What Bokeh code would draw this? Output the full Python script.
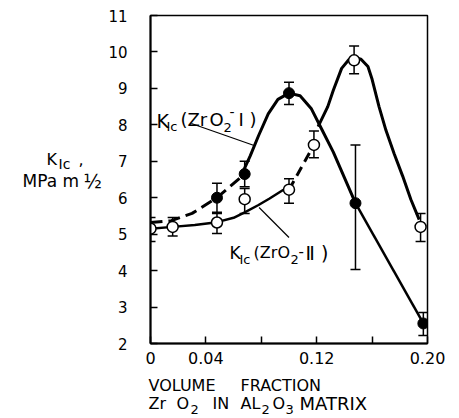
from bokeh.plotting import figure
from bokeh.models import Label, Whisker, ColumnDataSource, FixedTicker, TeeHead, Range1d
from bokeh.layouts import row, column
from bokeh.embed import file_html
from bokeh.resources import INLINE

# ---- measured data (volume fraction ZrO2, K_Ic in MPa m^1/2) ----
x_I = [0.048, 0.068, 0.100, 0.148, 0.197]
y_I = [6.00, 6.65, 8.87, 5.85, 2.55]
lo_I = [5.60, 6.30, 8.56, 4.03, 2.22]
hi_I = [6.40, 7.00, 9.17, 7.45, 2.85]

x_II = [0.0, 0.016, 0.048, 0.068, 0.100, 0.118, 0.147, 0.195]
y_II = [5.15, 5.20, 5.32, 5.96, 6.22, 7.45, 9.77, 5.20]
lo_II = [4.80, 4.95, 5.02, 5.57, 5.85, 7.10, 9.40, 4.80]
hi_II = [5.46, 5.46, 5.57, 6.25, 6.52, 7.83, 10.16, 5.57]

# ---- hand-drawn trend curves ----
cI_dash_x = [0.0, 0.015, 0.030, 0.048, 0.068]
cI_dash_y = [5.32, 5.37, 5.57, 6.00, 6.65]
cI_solid_x = [0.066, 0.072, 0.078, 0.085, 0.092, 0.100, 0.108, 0.116, 0.124, 0.132, 0.140, 0.148]
cI_solid_y = [6.65, 7.15, 7.70, 8.30, 8.70, 8.87, 8.80, 8.45, 7.85, 7.25, 6.55, 5.85]
cI_tail_x = [0.148, 0.197]
cI_tail_y = [5.85, 2.55]

cII_left_x = [0.0, 0.016, 0.032, 0.048, 0.060, 0.068, 0.078, 0.086, 0.096]
cII_left_y = [5.15, 5.20, 5.25, 5.33, 5.45, 5.60, 5.80, 5.98, 6.22]
cII_dash_x = [0.100, 0.118]
cII_dash_y = [6.22, 7.45]
cII_right_x = [0.121, 0.128, 0.132, 0.138, 0.143, 0.147, 0.152, 0.157, 0.160, 0.165, 0.170, 0.176, 0.182, 0.188, 0.194]
cII_right_y = [7.95, 8.50, 8.95, 9.55, 9.78, 9.85, 9.80, 9.60, 9.25, 8.50, 7.85, 7.20, 6.60, 5.95, 5.40]

x_ticks = [0.0, 0.04, 0.08, 0.12, 0.16, 0.20]
x_tick_labels = ["0", "0.04", "", "0.12", "", "0.20"]
y_ticks = [2, 3, 4, 5, 6, 7, 8, 9, 10, 11]

FONT = "DejaVu Sans"
YW = 105      # width of the y-label strip
TOPH = 372    # height of the upper row
W, H = 459, 418

# ---------------- main plot ----------------
p = figure(width=W - YW, height=TOPH, output_backend="svg", toolbar_location=None,
           x_range=Range1d(0, 0.2), y_range=Range1d(2, 11),
           min_border_left=149 - YW, min_border_right=32, min_border_top=15,
           min_border_bottom=TOPH - 343)
p.grid.visible = False
p.outline_line_color = "black"
p.outline_line_width = 1.5
p.background_fill_color = "white"

for ax in (p.xaxis[0], p.yaxis[0]):
    ax.axis_line_width = 2
    ax.major_tick_in = 7
    ax.major_tick_out = 0
    ax.minor_tick_line_color = None
    ax.major_tick_line_width = 1.5
    ax.major_label_text_font = FONT
    ax.major_label_text_font_size = "16px"
    ax.major_label_text_color = "black"

p.yaxis.major_label_text_font_size = "15px"
p.xaxis.ticker = FixedTicker(ticks=x_ticks)
p.xaxis.major_label_overrides = {t: s for t, s in zip(x_ticks, x_tick_labels)}
p.xaxis.major_label_standoff = 8
p.yaxis.ticker = FixedTicker(ticks=y_ticks)
p.yaxis.major_label_standoff = 23

# error bars
srcI = ColumnDataSource(dict(x=x_I, y=y_I, lo=lo_I, hi=hi_I))
srcII = ColumnDataSource(dict(x=x_II, y=y_II, lo=lo_II, hi=hi_II))
for src in (srcI, srcII):
    w = Whisker(base="x", lower="lo", upper="hi", source=src, dimension="height",
                line_width=1.5, line_color="black", level="underlay",
                upper_head=TeeHead(size=10, line_width=1.5, line_color="black"),
                lower_head=TeeHead(size=10, line_width=1.5, line_color="black"))
    p.add_layout(w)

# curves
p.line(cI_dash_x, cI_dash_y, line_width=3, line_color="black", line_dash="12 6")
p.line(cI_solid_x, cI_solid_y, line_width=3, line_color="black")
p.line(cI_tail_x, cI_tail_y, line_width=2.5, line_color="black")
p.line(cII_left_x, cII_left_y, line_width=2.5, line_color="black")
p.line(cII_dash_x, cII_dash_y, line_width=3, line_color="black", line_dash="10 6")
p.line(cII_right_x, cII_right_y, line_width=3, line_color="black")

# markers
p.scatter("x", "y", source=srcI, size=11, fill_color="black", line_color="black")
p.scatter("x", "y", source=srcII, size=11, fill_color="white", line_color="black", line_width=1.5)

# placement helpers (page pixel -> frame screen / data)
L, B = 149, 343
def dx(px):
    return (px - L) / 1390.0
def dy(py):
    return 2 + (B - py) / 36.44

def lab_main(text, px, py, size):
    p.add_layout(Label(x=px - L, y=B - py, x_units="screen", y_units="screen", text=text,
                       text_font=FONT, text_font_size=size, text_color="black",
                       text_baseline="alphabetic", text_align="left"))

# curve labels
lab_main("K", 155, 120, "19px"); lab_main("Ic", 165, 126, "13px")
lab_main("(Zr", 179, 119, "18px"); lab_main("O", 208, 119, "18px"); lab_main("2", 222, 127, "13px")
lab_main("-", 228, 111, "14px"); lab_main("I )", 237, 119, "18px")
p.segment(x0=[dx(190)], y0=[dy(123)], x1=[dx(253)], y1=[dy(145)], line_width=1.2, line_color="black")

lab_main("K", 228, 252, "17px"); lab_main("Ic", 238, 259, "13px")
lab_main("(Zr", 252, 252, "16px"); lab_main("O", 276, 252, "16px"); lab_main("2", 289, 259, "13px")
lab_main("-", 297, 250, "15px"); lab_main("\u2161 )", 304, 252, "19px")
p.segment(x0=[dx(258)], y0=[dy(207)], x1=[dx(288)], y1=[dy(237)], line_width=1.2, line_color="black")

# ---------------- label strips (page-pixel coordinates) ----------------
def strip(width, height, x0, y0):
    f = figure(width=width, height=height, output_backend="svg", toolbar_location=None,
               x_range=Range1d(x0, x0 + width), y_range=Range1d(y0 + height, y0),
               x_axis_type=None, y_axis_type=None,
               min_border_left=0, min_border_right=0, min_border_top=0, min_border_bottom=0)
    f.outline_line_color = None
    f.background_fill_color = "white"
    f.border_fill_color = "white"
    return f

ylab = strip(YW, TOPH, 0, 0)
xlab = strip(W, H - TOPH, 0, TOPH)

def lab(fig, text, px, py, size):
    fig.add_layout(Label(x=px, y=py, text=text, text_font=FONT, text_font_size=size,
                         text_color="black", text_baseline="alphabetic", text_align="left"))

# y-axis label
lab(ylab, "K", 46, 163, "16px"); lab(ylab, "Ic", 58, 168, "14px"); lab(ylab, ",", 78, 163, "16px")
lab(ylab, "MPa m", 22, 188, "17px"); lab(ylab, "\u00bd", 83, 188, "19px")

# x-axis label
lab(xlab, "VOLUME", 148, 385, "16px"); lab(xlab, "FRACTION", 240, 385, "16px")
lab(xlab, "Zr", 148, 403, "16px"); lab(xlab, "O", 176, 403, "16px"); lab(xlab, "2", 190, 409, "13px")
lab(xlab, "IN", 212, 403, "16px")
lab(xlab, "AL", 240, 403, "16px"); lab(xlab, "2", 261, 409, "13px")
lab(xlab, "O", 272, 403, "16px"); lab(xlab, "3", 285, 409, "13px")
lab(xlab, "MATRIX", 299, 403, "18px")

layout = column(row(ylab, p, spacing=0), xlab, spacing=0)
open("out.html", "w").write(file_html(layout, INLINE))
